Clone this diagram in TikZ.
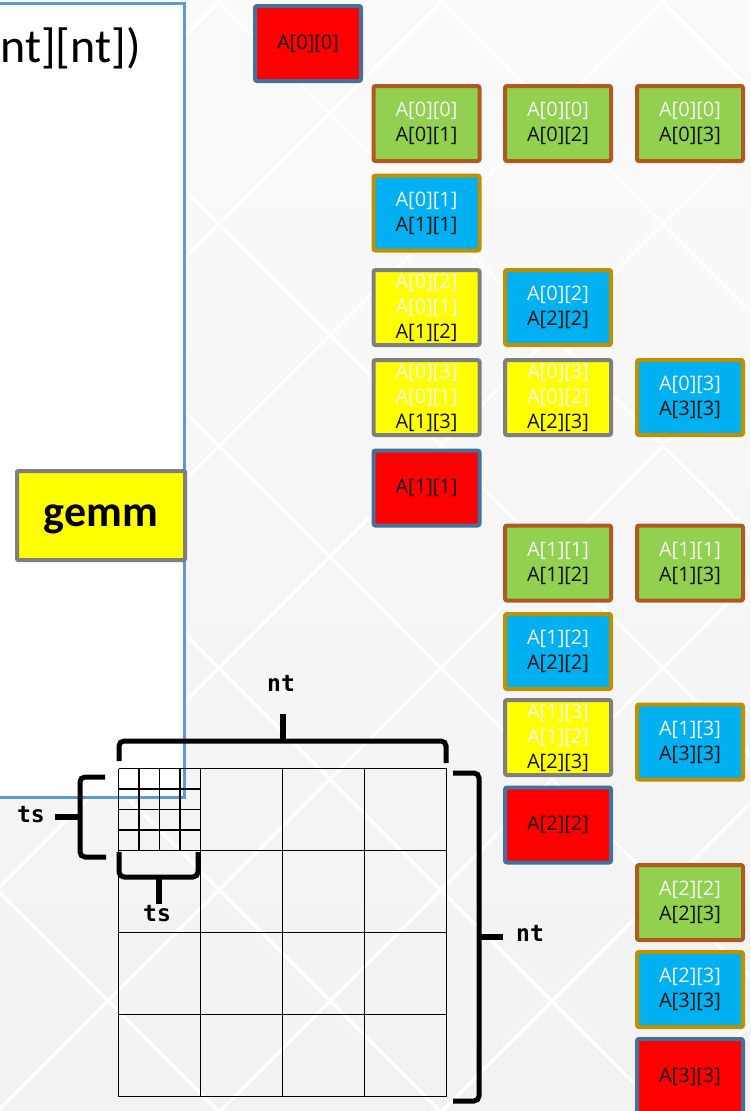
\documentclass[tikz,border=0pt]{standalone}
\usepackage{fontspec}
\setmainfont{Open Sans}
\newfontfamily\calfont{Carlito}
\newfontfamily\codefont{DejaVu Sans Mono}
\usetikzlibrary{calc}

\definecolor{bgtop}{HTML}{FAFAFA}
\definecolor{bgbot}{HTML}{F2F2F2}
\definecolor{frameblue}{HTML}{5B9BD5}
\definecolor{tred}{HTML}{FF0000}
\definecolor{tgreen}{HTML}{92D050}
\definecolor{tblue}{HTML}{00B0F0}
\definecolor{tyellow}{HTML}{FFFF00}
\definecolor{bred}{HTML}{41719C}
\definecolor{bgreen}{HTML}{AE5A21}
\definecolor{bblue}{HTML}{BF9000}
\definecolor{bgray}{HTML}{7F7F7F}
\definecolor{lite}{HTML}{F4F4F4}
\definecolor{ink}{HTML}{111111}

\tikzset{
  diag/.style={white, line width=3.5pt},
  tile/.style={draw, line width=4pt, rounded corners=2pt, minimum width=106pt,
    minimum height=75pt, inner sep=0pt, align=center, text=ink,
    font=\fontsize{20}{25}\selectfont},
  potrf/.style={tile, fill=tred, draw=bred},
  trsm/.style={tile, fill=tgreen, draw=bgreen},
  syrk/.style={tile, fill=tblue, draw=bblue},
  gemmtile/.style={tile, fill=tyellow, draw=bgray},
  gridline/.style={black, line width=1.3pt},
  bracket/.style={black, line width=5pt, rounded corners=5pt},
  bracetip/.style={black, line width=6pt},
  dimlabel/.style={font=\codefont\bfseries\fontsize{23}{26}\selectfont, inner sep=0pt}
}
\newcommand{\lt}[1]{\textcolor{lite}{#1}}

\begin{document}
\begin{tikzpicture}[x=1pt,y=-1pt]
\useasboundingbox (0,0) rectangle (750,1111);
\begin{scope}
\clip (0,0) rectangle (750,1111);

% backdrop with the diamond lattice
\shade[top color=bgtop, bottom color=bgbot] (0,0) rectangle (750,1111);
\foreach \c in {221,443,...,1775} \draw[diag] (\c,0) -- (\c-1111,1111);
\foreach \d in {-1115,-893,...,661} \draw[diag] (\d,0) -- (\d+1111,1111);

% code panel
\draw[draw=frameblue, line width=2.5pt, fill=white] (-10,3.5) rectangle (184.5,797.5);
\node[anchor=base east, inner sep=0pt, font=\calfont\fontsize{48}{56}\selectfont] (sig) at (141,62) {nt][nt])};

% tiled matrix
\foreach \i in {0,...,4} {
  \draw[gridline] (118.5+82*\i,768.5) -- (118.5+82*\i,1096.5);
  \draw[gridline] (118.5,768.5+82*\i) -- (446.5,768.5+82*\i);
}
\foreach \i in {1,2,3} {
  \draw[gridline] (118.5+20.5*\i,768.5) -- (118.5+20.5*\i,850.5);
  \draw[gridline] (118.5,768.5+20.5*\i) -- (200.5,768.5+20.5*\i);
}

% dimension brackets
\draw[bracket] (119,761) -- (119,741) -- (446,741) -- (446,763);
\draw[bracetip] (282.5,741) -- (282.5,714);
\node[dimlabel] (ntTop) at (281,683) {nt};

\draw[bracket] (105,777) -- (80,777) -- (80,857) -- (106,857);
\draw[bracetip] (80,817) -- (55,817);
\node[dimlabel] (tsLeft) at (31,815) {ts};

\draw[bracket] (119,852) -- (119,877) -- (198,877) -- (198,852);
\draw[bracetip] (159,877) -- (159,904);
\node[dimlabel] (tsBottom) at (157,914) {ts};

\draw[bracket] (453,773) -- (479,773) -- (479,1101) -- (453,1101);
\draw[bracetip] (479,937) -- (503,937);
\node[dimlabel] (ntRight) at (530,933) {nt};

% kernel key
\node[gemmtile, minimum width=168pt, minimum height=89pt, rounded corners=1pt,
      text depth=0pt, font=\calfont\bfseries\fontsize{44}{48}\selectfont, text=black] (gemm) at (101,515.5) {gemm};

% task tiles
\node[potrf] (p0) at (308,43.5) {A[0][0]};
\node[trsm] (t01) at (426.5,123.5) {\lt{A[0][0]}\\A[0][1]};
\node[trsm] (t02) at (558,123.5) {\lt{A[0][0]}\\A[0][2]};
\node[trsm] (t03) at (690,123.5) {\lt{A[0][0]}\\A[0][3]};
\node[syrk] (s11) at (426.5,213) {\lt{A[0][1]}\\A[1][1]};
\node[gemmtile] (g12) at (426.5,307.5) {\lt{A[0][2]}\\\lt{A[0][1]}\\A[1][2]};
\node[syrk] (s22) at (558,307.5) {\lt{A[0][2]}\\A[2][2]};
\node[gemmtile] (g13) at (426.5,397.5) {\lt{A[0][3]}\\\lt{A[0][1]}\\A[1][3]};
\node[gemmtile] (g23) at (558,397.5) {\lt{A[0][3]}\\\lt{A[0][2]}\\A[2][3]};
\node[syrk] (s33) at (690,397.5) {\lt{A[0][3]}\\A[3][3]};
\node[potrf] (p1) at (426.5,488) {A[1][1]};
\node[trsm] (t12) at (558,563) {\lt{A[1][1]}\\A[1][2]};
\node[trsm] (t13) at (690,563) {\lt{A[1][1]}\\A[1][3]};
\node[syrk] (s22b) at (558,651.5) {\lt{A[1][2]}\\A[2][2]};
\node[gemmtile] (g23b) at (558,737.5) {\lt{A[1][3]}\\\lt{A[1][2]}\\A[2][3]};
\node[syrk] (s33b) at (690,742) {\lt{A[1][3]}\\A[3][3]};
\node[potrf] (p2) at (558,825) {A[2][2]};
\node[trsm] (t23) at (690,902.5) {\lt{A[2][2]}\\A[2][3]};
\node[syrk] (s33c) at (690,989.5) {\lt{A[2][3]}\\A[3][3]};
\node[potrf] (p3) at (690,1076.5) {A[3][3]};
\end{scope}
\end{tikzpicture}
\end{document}
